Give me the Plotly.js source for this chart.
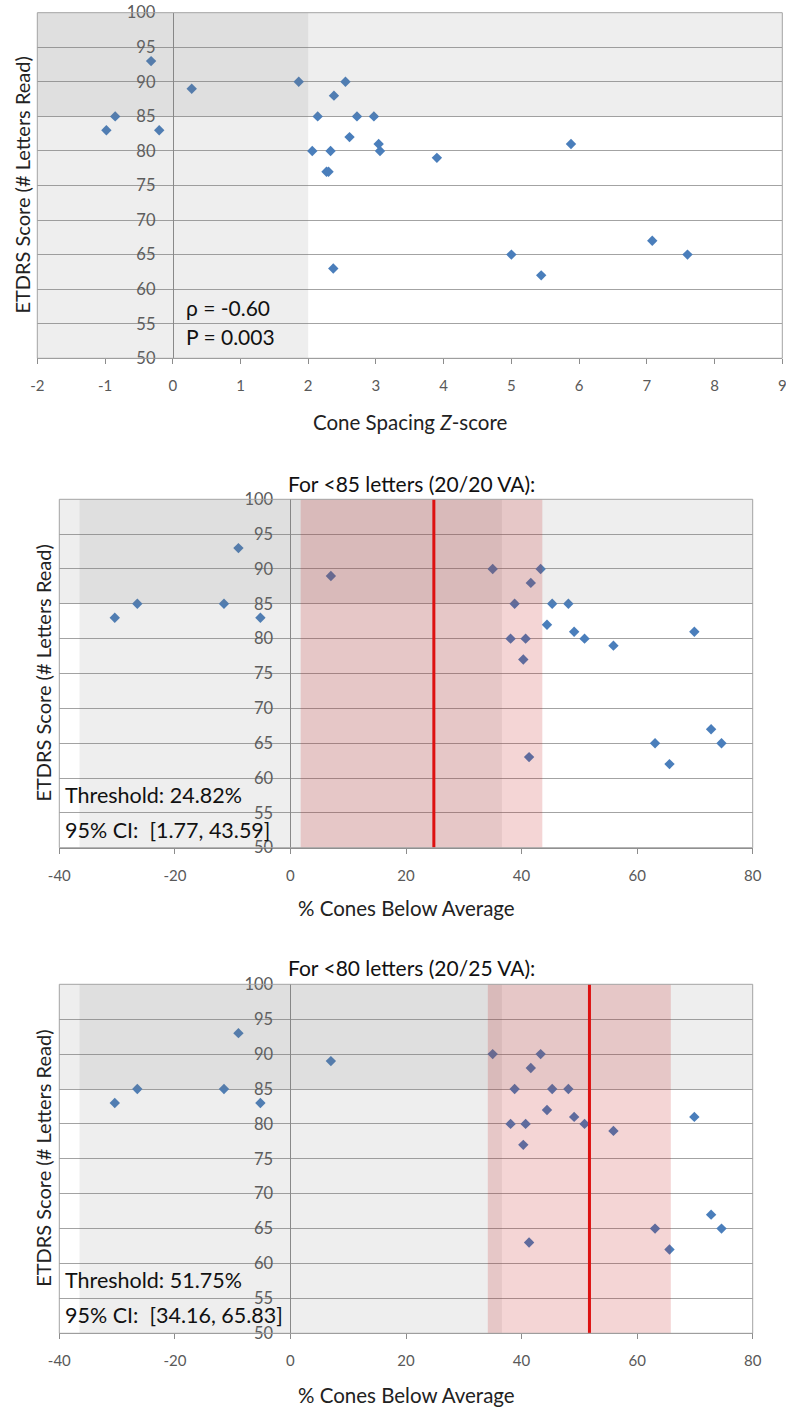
<!DOCTYPE html>
<html><head><meta charset="utf-8">
<script src="https://cdn.plot.ly/plotly-3.0.1.min.js"></script>
<style>html,body{margin:0;padding:0;background:#fff}</style>
</head><body><div id="chart" style="width:786px;height:1408px"></div>
<script>
// ---- data ----
const zScore = [-0.98, -0.85, -0.32, -0.2, 0.28, 1.86, 2.06, 2.14, 2.27, 2.3, 2.33, 2.38, 2.37, 2.55, 2.61, 2.72, 2.97, 3.04, 3.06, 3.9, 5.0, 5.44, 5.88, 7.08, 7.6];
const zEtdrs = [83, 85, 93, 83, 89, 90, 80, 85, 77, 77, 80, 88, 63, 90, 82, 85, 85, 81, 80, 79, 65, 62, 81, 67, 65];
const pctBelow = [-30.4, -26.5, -11.5, -9.0, -5.2, 7.0, 35.0, 38.8, 38.1, 40.7, 40.3, 41.6, 43.3, 41.3, 44.4, 45.3, 48.1, 49.1, 50.9, 55.9, 69.9, 63.1, 65.6, 72.8, 74.6];
const pctEtdrs = [83, 85, 85, 93, 83, 89, 90, 85, 80, 80, 77, 88, 90, 63, 82, 85, 85, 81, 80, 79, 81, 65, 62, 67, 65];
const zTickVals = [-2, -1, 0, 1, 2, 3, 4, 5, 6, 7, 8, 9];
const zTickText = ['-2', '-1', '0', '1', '2', '3', '4', '5', '6', '7', '8', '9'];
const pctTickVals = [-40, -20, 0, 20, 40, 60, 80];
const pctTickText = ['-40', '-20', '0', '20', '40', '60', '80'];
const yTickVals = [50, 55, 60, 65, 70, 75, 80, 85, 90, 95, 100];
const zRange = [-2, 9];
const pctRange = [-40, 80];
const yRange = [50, 100];
const normalZ = [-2, 2];
const normalPct = [-36.5, 36.6];
const goodVA = [85, 100];
const thr85 = 24.82, ci85 = [1.77, 43.59];
const thr80 = 51.75, ci80 = [34.16, 65.83];
const panelTitles = ['For <85 letters (20/20 VA):', 'For <80 letters (20/25 VA):'];
const statText1 = ['ρ = -0.60', 'P = 0.003'];
const statText2 = ['Threshold: 24.82%', '95% CI:  [1.77, 43.59]'];
const statText3 = ['Threshold: 51.75%', '95% CI:  [34.16, 65.83]'];

// ---- layout geometry (pixels) ----
const W = 786, H = 1408;
const FONT = "Lato, 'Open Sans', sans-serif";
const panels = [
  {x0: 37.3, x1: 782.3, y0: 12.7, y1: 358.3, range: zRange, tv: zTickVals, tt: zTickText},
  {x0: 59.3, x1: 752.7, y0: 499.3, y1: 847.7, range: pctRange, tv: pctTickVals, tt: pctTickText},
  {x0: 59.3, x1: 752.7, y0: 984.3, y1: 1333.3, range: pctRange, tv: pctTickVals, tt: pctTickText}
];
const grid = '#a3a3a3', axisCol = '#8c8c8c', tickCol = '#595959';
const layout = {
  width: W, height: H, margin: {l: 0, r: 0, t: 0, b: 0},
  paper_bgcolor: '#fff', plot_bgcolor: '#fff', showlegend: false,
  font: {family: FONT, color: '#222'},
  shapes: [], annotations: []
};
panels.forEach((p, i) => {
  const n = i === 0 ? '' : (i + 1);
  const xd = [p.x0 / W, p.x1 / W];
  const yd = [1 - p.y1 / H, 1 - p.y0 / H];
  const frac0 = (0 - p.range[0]) / (p.range[1] - p.range[0]);
  layout['xaxis' + n] = {
    domain: xd, range: p.range, tickmode: 'array', tickvals: p.tv, ticktext: p.tt, anchor: 'y' + n,
    showgrid: false, zeroline: false, showline: true, linecolor: axisCol,
    ticks: 'outside', ticklen: 5, tickcolor: axisCol, ticklabelstandoff: 9,
    ticklabeloverflow: 'allow',
    tickfont: {size: 15, color: tickCol, family: FONT}, fixedrange: true
  };
  layout['yaxis' + n] = {
    domain: yd, range: yRange, tickmode: 'array', tickvals: yTickVals, anchor: 'free',
    position: xd[0] + frac0 * (xd[1] - xd[0]),
    showgrid: true, gridcolor: grid, zeroline: false, showline: true, linecolor: axisCol,
    ticks: '', ticklabelstandoff: 14,
    tickfont: {size: 16.5, color: tickCol, family: FONT}, fixedrange: true
  };
  // y title
  layout.annotations.push({
    xref: 'paper', yref: 'paper', x: (i === 0 ? 22 : 43) / W, y: (yd[0] + yd[1]) / 2,
    text: 'ETDRS Score (# Letters Read)', textangle: -90, showarrow: false,
    font: {size: 20, color: '#222', family: FONT}, xanchor: 'center', yanchor: 'middle'
  });
});
// x titles
const xTitles = [['Cone Spacing <i>Z</i>-score', 422], ['% Cones Below Average', 908], ['% Cones Below Average', 1395]];
xTitles.forEach((t, i) => {
  const p = panels[i];
  layout.annotations.push({xref: 'paper', yref: 'paper', x: (p.x0 + p.x1) / 2 / W, y: 1 - t[1] / H,
    text: t[0], showarrow: false, xanchor: 'center', yanchor: 'middle',
    font: {size: 20.5, color: '#222', family: FONT}});
});
// panel titles
[[panelTitles[0], 483], [panelTitles[1], 967]].forEach(t => {
  layout.annotations.push({xref: 'paper', yref: 'paper', x: 411 / W, y: 1 - t[1] / H,
    text: t[0], showarrow: false, xanchor: 'center', yanchor: 'middle',
    font: {size: 21, color: '#111', family: FONT}});
});
// stats text
[[statText1, 184, [307, 336], 21], [statText2, 63, [795, 830], 21.5], [statText3, 63, [1280, 1315], 21.5]].forEach(s => {
  s[0].forEach((txt, k) => layout.annotations.push({xref: 'paper', yref: 'paper', x: s[1] / W, y: 1 - s[2][k] / H,
    text: txt, showarrow: false, xanchor: 'left', yanchor: 'middle',
    font: {size: s[3], color: '#111', family: FONT}}));
});

// shapes
const grayFill = 'rgba(120,120,120,0.13)';
const redFill = 'rgba(195,20,20,0.18)';
function bands(n, normal, thr, ci) {
  const xr = 'x' + n, yr = 'y' + n;
  layout.shapes.push({type: 'rect', xref: xr + ' domain', yref: yr, x0: 0, x1: 1, y0: goodVA[0], y1: goodVA[1], fillcolor: grayFill, line: {width: 0}, layer: 'above'});
  layout.shapes.push({type: 'rect', xref: xr, yref: yr + ' domain', x0: normal[0], x1: normal[1], y0: 0, y1: 1, fillcolor: grayFill, line: {width: 0}, layer: 'above'});
  if (ci) {
    layout.shapes.push({type: 'rect', xref: xr, yref: yr + ' domain', x0: ci[0], x1: ci[1], y0: 0, y1: 1, fillcolor: redFill, line: {width: 0}, layer: 'above'});
    layout.shapes.push({type: 'line', xref: xr, yref: yr + ' domain', x0: thr, x1: thr, y0: 0, y1: 1, line: {color: '#dd1111', width: 3}, layer: 'above'});
  }
  layout.shapes.push({type: 'rect', xref: xr + ' domain', yref: yr + ' domain', x0: 0, x1: 1, y0: 0, y1: 1, fillcolor: 'rgba(0,0,0,0)', line: {color: grid, width: 1}, layer: 'above'});
}
bands('', normalZ, null, null);
bands('2', normalPct, thr85, ci85);
bands('3', normalPct, thr80, ci80);

const mk = {symbol: 'diamond', size: 8, color: '#4a7ebb', line: {width: 0}};
const data = [
  {type: 'scatter', mode: 'markers', x: zScore, y: zEtdrs, xaxis: 'x', yaxis: 'y', marker: mk, hoverinfo: 'skip'},
  {type: 'scatter', mode: 'markers', x: pctBelow, y: pctEtdrs, xaxis: 'x2', yaxis: 'y2', marker: mk, hoverinfo: 'skip'},
  {type: 'scatter', mode: 'markers', x: pctBelow, y: pctEtdrs, xaxis: 'x3', yaxis: 'y3', marker: mk, hoverinfo: 'skip'}
];
Plotly.newPlot('chart', data, layout, {staticPlot: true, displayModeBar: false});
</script></body></html>
